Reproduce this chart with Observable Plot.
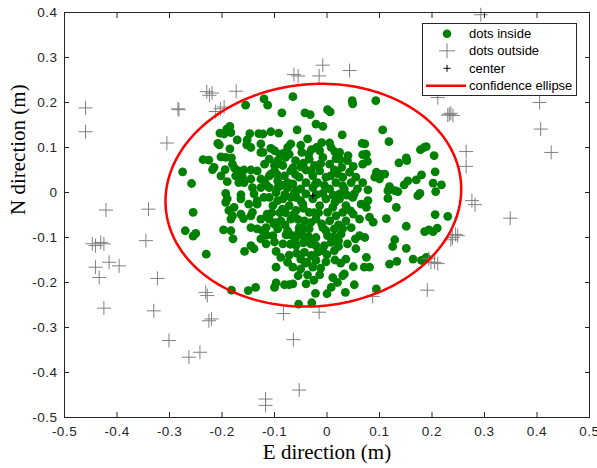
<!DOCTYPE html>
<html>
<head>
<meta charset="utf-8">
<script src="https://cdn.jsdelivr.net/npm/d3@7"></script>
<script src="https://cdn.jsdelivr.net/npm/@observablehq/plot@0.6"></script>
<style>
  body { margin: 0; background: #fff; }
  #wrap { position: relative; width: 597px; height: 468px; }
  #wrap > svg.chart { position: absolute; left: 0; top: 0; }
  #wrap > svg#legend { position: absolute; left: 422px; top: 23px; }
  #legend text { font-family: "Liberation Sans", Arial, sans-serif; font-size: 13px; fill: #000; }
</style>
</head>
<body>
<div id="wrap"></div>
<script>
// ---- data (E, N) in metres ----
const insidePoints = [
[-0.155,0.194],[-0.185,0.147],[-0.191,0.141],[-0.204,0.132],[-0.183,0.133],[-0.196,0.130],[-0.147,0.131],[-0.130,0.131],[-0.171,0.117],[-0.152,0.117],[-0.153,0.106],[-0.208,0.109],[-0.185,0.097],[-0.126,0.089],[-0.202,0.079],[-0.193,0.078],[-0.182,0.077],[-0.236,0.073],[-0.225,0.072],[-0.180,0.063],[-0.176,0.054],[-0.168,0.048],[-0.218,0.051],[-0.194,0.051],[-0.275,0.046],[-0.158,0.050],[-0.145,0.050],[-0.174,0.037],[-0.161,0.034],[-0.145,0.030],[-0.190,0.024],[-0.258,0.020],[-0.158,0.022],[-0.126,0.011],[-0.193,-0.002],[-0.164,-0.005],[-0.139,-0.003],
[-0.065,0.213],[-0.113,0.194],[-0.120,0.208],[0.048,0.204],[0.049,0.197],[-0.086,0.177],[-0.042,0.177],[-0.032,0.173],[0.001,0.184],[0.006,0.179],[-0.021,0.152],[-0.008,0.147],[-0.107,0.135],[-0.092,0.132],[-0.057,0.139],[0.029,0.128],[-0.122,0.130],[-0.037,0.119],[-0.069,0.108],[-0.010,0.111],[0.005,0.110],[0.067,0.109],[-0.107,0.098],[-0.100,0.093],[-0.030,0.095],[0.008,0.100],[-0.122,0.089],[-0.083,0.087],[-0.072,0.085],[-0.048,0.089],[-0.014,0.093],[0.024,0.089],[0.068,0.084],[-0.110,0.074],[-0.094,0.071],[-0.060,0.071],[-0.034,0.074],[-0.008,0.078],[0.025,0.073],[0.039,0.071],[-0.119,0.063],[-0.084,0.060],[-0.050,0.057],[-0.024,0.060],[0.005,0.063],[0.068,0.063],[-0.100,0.048],[-0.069,0.048],[-0.040,0.050],[-0.014,0.048],[0.014,0.050],[0.043,0.045],[-0.110,0.037],[-0.081,0.037],[-0.053,0.034],[-0.027,0.037],[-0.002,0.034],[0.030,0.034],[0.055,0.034],[-0.119,0.026],[-0.094,0.026],[-0.065,0.019],[-0.040,0.022],[-0.018,0.022],[0.017,0.022],[0.046,0.022],[0.068,0.022],[-0.110,0.011],[-0.075,0.011],[-0.050,0.008],[-0.027,0.011],[0.005,0.008],[0.033,0.008],[0.058,0.008],[-0.097,0.000],[-0.062,0.000],[-0.040,-0.003],[-0.008,-0.002],[0.024,-0.003],[0.052,-0.003],
[0.093,0.204],[0.106,0.139],[0.118,0.113],[0.072,0.108],[0.075,0.085],[0.077,0.069],[0.178,0.095],[0.185,0.100],[0.189,0.102],[0.204,0.082],[0.151,0.077],[0.152,0.071],[0.137,0.066],[0.206,0.046],[0.094,0.045],[0.091,0.034],[0.104,0.040],[0.110,0.041],[0.100,0.030],[0.180,0.039],[0.170,0.028],[0.154,0.026],[0.202,0.021],[0.218,0.017],[0.147,0.017],[0.119,0.013],[0.129,0.004],[0.116,0.004],[0.135,0.002],[0.078,0.006],[0.207,0.002],[0.177,-0.002],
[-0.190,-0.014],[-0.164,-0.014],[-0.149,-0.026],[-0.133,-0.026],[-0.187,-0.040],[-0.180,-0.052],[-0.183,-0.059],[-0.142,-0.044],[-0.145,-0.052],[-0.159,-0.058],[-0.126,-0.059],[-0.255,-0.044],[-0.270,-0.085],[-0.255,-0.097],[-0.250,-0.091],[-0.197,-0.083],[-0.133,-0.081],[-0.179,-0.103],[-0.126,-0.103],[-0.145,-0.118],[-0.139,-0.125],[-0.157,-0.131],[-0.230,-0.137],[-0.182,-0.217],[-0.150,-0.218],[-0.136,-0.211],
[-0.110,-0.011],[-0.084,-0.014],[-0.059,-0.011],[-0.027,-0.014],[-0.002,-0.014],[0.024,-0.014],[0.049,-0.011],[-0.103,-0.029],[-0.072,-0.029],[-0.046,-0.026],[-0.014,-0.029],[0.011,-0.033],[0.036,-0.029],[0.065,-0.026],[-0.059,-0.040],[-0.034,-0.044],[0.001,-0.044],[0.030,-0.044],[-0.110,-0.059],[-0.088,-0.063],[-0.069,-0.059],[-0.043,-0.063],[-0.021,-0.059],[0.005,-0.063],[0.036,-0.063],[0.062,-0.059],[-0.116,-0.078],[-0.094,-0.081],[-0.053,-0.078],[-0.034,-0.081],[-0.008,-0.078],[0.014,-0.081],[0.046,-0.078],[-0.103,-0.096],[-0.078,-0.094],[-0.046,-0.096],[-0.021,-0.100],[0.001,-0.096],[0.027,-0.092],[0.062,-0.096],[-0.116,-0.114],[-0.084,-0.114],[-0.059,-0.118],[-0.021,-0.118],[0.008,-0.111],[0.039,-0.114],[-0.097,-0.131],[-0.072,-0.139],[-0.043,-0.133],[-0.018,-0.133],[0.014,-0.129],[0.055,-0.125],[-0.088,-0.144],[-0.050,-0.148],[-0.021,-0.151],[-0.002,-0.154],[0.036,-0.148],[-0.065,-0.166],[-0.027,-0.166],[-0.097,-0.166],[0.071,-0.166],[-0.037,-0.183],[-0.014,-0.183],[0.011,-0.189],[0.030,-0.185],[0.033,-0.181],[-0.097,-0.201],[-0.100,-0.211],[-0.081,-0.205],[-0.072,-0.205],[-0.065,-0.203],[-0.040,-0.203],[0.008,-0.211],[0.052,-0.205],[-0.022,-0.224],[0.000,-0.225],[0.035,-0.222],[-0.054,-0.248],[-0.029,-0.245],
[0.078,-0.018],[0.116,-0.013],[0.075,-0.033],[0.132,-0.033],[0.173,-0.007],[0.081,-0.055],[0.088,-0.066],[0.113,-0.058],[0.206,-0.049],[0.230,-0.053],[0.151,-0.075],[0.186,-0.087],[0.194,-0.083],[0.202,-0.087],[0.210,-0.079],[0.072,-0.100],[0.129,-0.105],[0.125,-0.120],[0.151,-0.124],[0.075,-0.144],[0.081,-0.166],[0.119,-0.159],[0.133,-0.153],[0.164,-0.148],[0.180,-0.151],[0.189,-0.144],[0.094,-0.214],
[-0.205,0.106],[-0.145,0.100],[-0.126,0.108],[-0.133,0.048],[-0.126,0.030],[-0.107,0.041],[-0.094,0.063],[-0.079,0.078],[-0.215,0.056],[-0.202,0.037],[-0.168,0.022],[-0.142,0.011],[-0.114,0.015],[-0.094,0.011],[-0.075,0.022],[-0.133,-0.018],[-0.120,-0.011],[-0.094,-0.018],[-0.069,-0.011],[-0.193,-0.022],[-0.177,-0.033],[-0.164,-0.048],[-0.114,-0.048],[-0.085,-0.037],[-0.063,-0.048],[-0.183,-0.085],[-0.145,-0.078],[-0.123,-0.085],[-0.101,-0.070],[-0.075,-0.085],
[-0.058,0.004],[-0.022,0.019],[0.007,0.037],[-0.012,0.064],[0.017,0.075],[-0.031,0.048],[-0.050,-0.018],[-0.016,-0.045],[0.017,-0.052],[-0.031,-0.067],[-0.002,-0.085],[-0.060,-0.103],[-0.031,-0.114],[0.022,-0.107],[-0.008,-0.129],[-0.054,-0.089],[-0.079,-0.045],[-0.098,-0.067],[0.045,-0.041],[0.054,-0.103],[0.026,-0.157],[-0.041,-0.157],
[-0.090,0.085],[-0.035,0.085],[0.040,0.082],[-0.065,0.055],[0.028,0.056],[-0.095,0.040],[-0.060,0.040],[0.020,0.042],[-0.085,0.016],[-0.005,0.016],[0.030,0.015],[-0.080,-0.004],[-0.020,-0.005],[0.012,-0.006],[0.038,-0.006],[-0.045,-0.035],[-0.090,-0.045],[0.015,-0.022],[-0.025,-0.045],[0.050,-0.048],[-0.055,-0.060],[-0.010,-0.070],[0.022,-0.072],[-0.080,-0.072],[-0.045,-0.080],[0.030,-0.080],[-0.068,-0.095],[-0.035,-0.098],[0.013,-0.098],[-0.100,-0.110],[-0.070,-0.115],[-0.045,-0.112],[-0.005,-0.118],[0.022,-0.120],[-0.058,-0.135],[-0.030,-0.140],[0.000,-0.138],[-0.075,-0.155],[-0.038,-0.155],[0.015,-0.150],[-0.050,-0.170],[-0.012,-0.168],[0.050,-0.165],[-0.055,-0.185],[-0.025,-0.195],[0.020,-0.200],[-0.105,-0.045],[-0.115,-0.095],[-0.100,0.060],[-0.045,0.065],[0.050,0.058],[-0.020,0.100],[-0.050,0.105],[0.015,0.090],[-0.075,0.100]
];

const outsidePoints = [
[-0.460,0.188],[-0.460,0.135],[-0.305,0.110],[-0.284,0.186],[-0.282,0.184],[-0.229,0.224],[-0.224,0.216],[-0.219,0.221],[-0.173,0.225],[-0.196,0.190],[-0.203,0.186],[-0.212,0.180],[-0.063,0.262],[-0.055,0.259],[-0.421,-0.039],[-0.340,-0.037],[0.293,0.395],[-0.008,0.283],[-0.015,0.259],[0.043,0.271],[0.233,0.174],[0.236,0.176],[0.240,0.171],[0.230,0.172],[0.405,0.200],[0.407,0.141],[0.427,0.089],[0.265,0.091],[0.265,0.058],[0.276,-0.018],[0.282,-0.027],[0.349,-0.057],[0.239,-0.100],[0.249,-0.096],[0.245,-0.093],[0.236,-0.105],[-0.447,-0.114],[-0.441,-0.118],[-0.431,-0.111],[-0.425,-0.114],[-0.345,-0.107],[-0.441,-0.166],[-0.434,-0.189],[-0.415,-0.155],[-0.396,-0.163],[-0.323,-0.191],[-0.425,-0.257],[-0.330,-0.263],[-0.231,-0.222],[-0.228,-0.229],[-0.225,-0.285],[-0.220,-0.281],[-0.301,-0.329],[-0.263,-0.366],[-0.242,-0.355],[-0.117,-0.459],[-0.117,-0.473],[-0.083,-0.269],[-0.064,-0.327],[-0.053,-0.439],[-0.015,-0.266],[0.087,-0.231],[0.191,-0.217],[0.198,-0.155],[0.205,-0.155],[0.211,-0.158],[0.194,-0.147],[0.211,0.211]
];

const centerPoint = [[-0.027, -0.007]];

// confidence ellipse parameters
const ellipseCenter = [-0.026, -0.006];
const ellipseSemiAxes = [0.283, 0.246];
const ellipseAngle = 0.2; // radians

const xTicks = [-0.5, -0.4, -0.3, -0.2, -0.1, 0, 0.1, 0.2, 0.3, 0.4, 0.5];
const yTicks = [-0.5, -0.4, -0.3, -0.2, -0.1, 0, 0.1, 0.2, 0.3, 0.4];
const xLabel = "E direction (m)";
const yLabel = "N direction (m)";
const legendLabels = ["dots inside", "dots outside", "center", "confidence ellipse"];

// ---- derived ----
const ellipse = d3.range(0, 361, 2).map(deg => {
  const t = deg * Math.PI / 180;
  const [a, b] = ellipseSemiAxes;
  const c = Math.cos(ellipseAngle), s = Math.sin(ellipseAngle);
  return {
    x: ellipseCenter[0] + a * Math.cos(t) * c - b * Math.sin(t) * s,
    y: ellipseCenter[1] + a * Math.cos(t) * s + b * Math.sin(t) * c
  };
});

const plusSymbol = {
  draw(context, size) {
    const r = Math.sqrt(size / Math.PI);
    context.moveTo(-r, 0); context.lineTo(r, 0);
    context.moveTo(0, -r); context.lineTo(0, r);
  }
};

const fmt = d => String(Math.round(d * 10) / 10);
const tickFont = {fontFamily: "Liberation Sans, Arial, sans-serif", fontSize: 13.5, fill: "#262626"};

const chart = Plot.plot({
  width: 597,
  height: 468,
  marginLeft: 64,
  marginRight: 8,
  marginTop: 12,
  marginBottom: 51,
  className: "chart",
  style: {background: "#fff", fontFamily: "Liberation Sans, Arial, sans-serif", fontSize: "13px", color: "#262626", overflow: "visible"},
  x: {domain: [-0.5, 0.5]},
  y: {domain: [-0.5, 0.4]},
  marks: [
    Plot.dot(insidePoints, {x: d => d[0], y: d => d[1], r: 4.4, fill: "#008000", stroke: null}),
    Plot.dot(outsidePoints, {x: d => d[0], y: d => d[1], r: 7, symbol: plusSymbol, stroke: "#808080", fill: "none", strokeWidth: 1}),
    Plot.dot(centerPoint, {x: d => d[0], y: d => d[1], r: 3.5, symbol: plusSymbol, stroke: "#000", fill: "none", strokeWidth: 1}),
    Plot.line(ellipse, {x: "x", y: "y", stroke: "#ff0000", strokeWidth: 2.5}),
    Plot.axisX({ticks: xTicks, tickSize: -5, tickFormat: () => "", label: null, stroke: "#262626"}),
    Plot.axisX({ticks: xTicks, anchor: "top", tickSize: -5, tickFormat: () => "", label: null, stroke: "#262626"}),
    Plot.axisY({ticks: yTicks, tickSize: -5, tickFormat: () => "", label: null, stroke: "#262626"}),
    Plot.axisY({ticks: yTicks, anchor: "right", tickSize: -5, tickFormat: () => "", label: null, stroke: "#262626"}),
    Plot.axisX({ticks: xTicks, tickSize: 0, tickPadding: 9, tickFormat: fmt, label: null, ...tickFont}),
    Plot.axisY({ticks: yTicks, tickSize: 0, tickPadding: 7, tickFormat: fmt, label: null, ...tickFont}),
    Plot.frame({stroke: "#262626"}),
    Plot.text([xLabel], {text: d => d, frameAnchor: "bottom", dy: 41, fontFamily: "Liberation Serif, Times New Roman, serif", fontSize: 21, fill: "#000"}),
    Plot.text([yLabel], {text: d => d, frameAnchor: "left", rotate: -90, dx: -46, fontFamily: "Liberation Serif, Times New Roman, serif", fontSize: 21, fill: "#000"})
  ]
});
chart.querySelectorAll("g[aria-label='x-axis tick label'] text, g[aria-label='y-axis tick label'] text").forEach(t => t.setAttribute("letter-spacing", "0.5"));

const wrap = document.getElementById("wrap");
wrap.appendChild(chart);

// ---- legend ----
const ns = "http://www.w3.org/2000/svg";
const lg = document.createElementNS(ns, "svg");
lg.setAttribute("id", "legend");
lg.setAttribute("width", 156);
lg.setAttribute("height", 74);
const rows = [10.7, 27.8, 45.3, 62.7];
let html = `<rect x="0.5" y="0.5" width="154" height="72" fill="#fff" stroke="#262626"/>`;
html += `<circle cx="25" cy="${rows[0]}" r="4.3" fill="#008000"/>`;
html += `<path d="M17,${rows[1]}h16M25,${rows[1]-7.5}v15" stroke="#808080" fill="none"/>`;
html += `<path d="M21.5,${rows[2]}h7M25,${rows[2]-3.5}v7" stroke="#000" fill="none"/>`;
html += `<line x1="4" x2="44" y1="${rows[3]}" y2="${rows[3]}" stroke="#ff0000" stroke-width="2.5"/>`;
legendLabels.forEach((l, i) => {
  html += `<text x="47" y="${rows[i]}" dy="0.35em">${l}</text>`;
});
lg.innerHTML = html;
wrap.appendChild(lg);
</script>
</body>
</html>
